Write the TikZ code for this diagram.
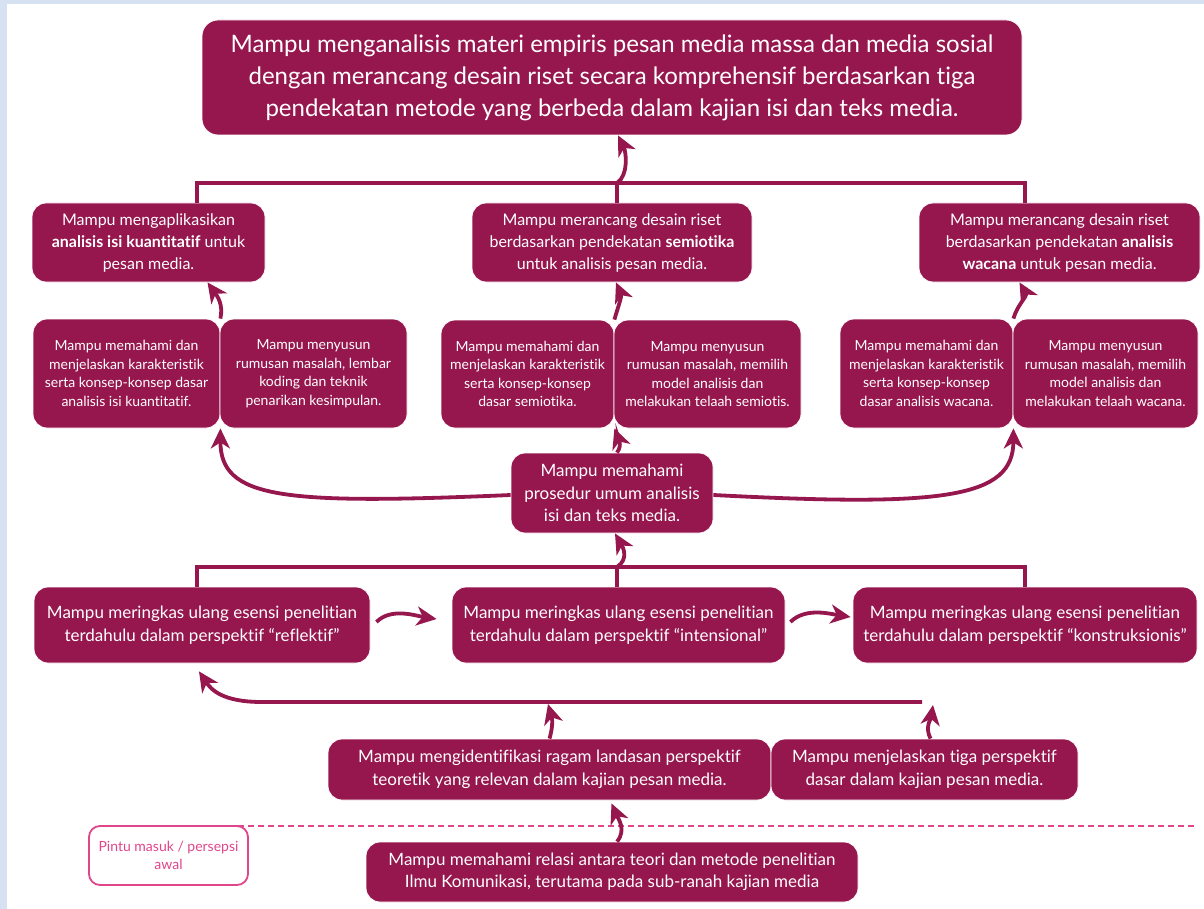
\documentclass[tikz,border=0pt]{standalone}
\usepackage{fontspec}
\setmainfont{Lato}[Ligatures={NoCommon,NoContextual}]
\usetikzlibrary{arrows.meta}
\definecolor{maroon}{HTML}{96164E}
\definecolor{pinkline}{HTML}{E0468C}
\definecolor{framebg}{HTML}{D6E2F2}
\tikzset{
  box/.style={rounded corners=14pt, fill=maroon, draw=white, line width=0.8pt,
    text=white, align=center, inner sep=0pt},
  bigtxt/.style={font=\fontsize{24}{32}\selectfont},
  midtxt/.style={font=\fontsize{17}{22.5}\selectfont},
  subtxt/.style={font=\fontsize{16}{22}\selectfont},
  tinytxt/.style={font=\fontsize{14}{18.5}\selectfont},
  link/.style={draw=maroon, line width=3.5pt},
  arr/.style={draw=maroon, line width=3.8pt, -{Stealth[length=20pt,width=19pt,inset=6pt]}}
}

\begin{document}
\begin{tikzpicture}[x=1pt,y=-1pt]
            \useasboundingbox (0,0) rectangle (1204,909);
            \fill[framebg] (0,0) rectangle (1204,909);
            \fill[white] (7,4) rectangle (1204,909);

            % goal on top
            \node (top) at (612,77.5) [box, bigtxt, minimum width=820, minimum height=115, rounded corners=16pt]{Mampu menganalisis materi empiris pesan media massa dan media sosial\\ dengan merancang desain riset secara komprehensif berdasarkan tiga\\ pendekatan metode yang berbeda dalam kajian isi dan teks media.};

            % three approaches
            \node (L2a) at (148.5,242.5) [box, subtxt, minimum width=233, minimum height=79]{Mampu mengaplikasikan\\ \textbf{analisis isi kuantitatif} untuk\\ pesan media.};
            \node (L2b) at (612,242.5) [box, subtxt, minimum width=280, minimum height=79]{Mampu merancang desain riset\\ berdasarkan pendekatan \textbf{semiotika}\\ untuk analisis pesan media.};
            \node (L2c) at (1059.5,242.5) [box, subtxt, minimum width=281, minimum height=79]{Mampu merancang desain riset\\ berdasarkan pendekatan \textbf{analisis}\\ \textbf{wacana} untuk pesan media.};

            % sub competences
            \node (L3a) at (126.5,373.5) [box, tinytxt, minimum width=187, minimum height=109]{Mampu memahami dan\\ menjelaskan karakteristik\\ serta konsep-konsep dasar\\ analisis isi kuantitatif.};
            \node (L3b) at (313.5,373.5) [box, tinytxt, minimum width=187, minimum height=109]{Mampu menyusun\\ rumusan masalah, lembar\\ koding dan teknik\\ penarikan kesimpulan.};
            \node (L3c) at (527.5,374) [box, tinytxt, minimum width=173, minimum height=108]{Mampu memahami dan\\ menjelaskan karakteristik\\ serta konsep-konsep\\ dasar semiotika.};
            \node (L3d) at (707.5,374) [box, tinytxt, minimum width=187, minimum height=108]{Mampu menyusun\\ rumusan masalah, memilih\\ model analisis dan\\ melakukan telaah semiotis.};
            \node (L3e) at (926.5,373.5) [box, tinytxt, minimum width=173, minimum height=109]{Mampu memahami dan\\ menjelaskan karakteristik\\ serta konsep-konsep\\ dasar analisis wacana.};
            \node (L3f) at (1105.5,373.5) [box, tinytxt, minimum width=185, minimum height=109]{Mampu menyusun\\ rumusan masalah, memilih\\ model analisis dan\\ melakukan telaah wacana.};

            % procedure
            \node (M) at (612,493) [box, midtxt, minimum width=202, minimum height=80]{Mampu memahami\\ prosedur umum analisis\\ isi dan teks media.};

            % perspectives
            \node (R5a) at (202,625) [box, midtxt, minimum width=336, minimum height=76]{Mampu meringkas ulang esensi penelitian\\ terdahulu dalam perspektif “reflektif”};
            \node (R5b) at (618.5,625) [box, midtxt, minimum width=333, minimum height=76]{Mampu meringkas ulang esensi penelitian\\ terdahulu dalam perspektif “intensional”};
            \node (R5c) at (1025,625) [box, midtxt, minimum width=344, minimum height=76]{Mampu meringkas ulang esensi penelitian\\ terdahulu dalam perspektif “konstruksionis”};

            \node (R6a) at (549.5,769.5) [box, midtxt, minimum width=443, minimum height=61]{Mampu mengidentifikasi ragam landasan perspektif\\ teoretik yang relevan dalam kajian pesan media.};
            \node (R6b) at (924.5,769.5) [box, midtxt, minimum width=307, minimum height=61]{Mampu menjelaskan tiga perspektif\\ dasar dalam kajian pesan media.};

            % entry
            \draw[pinkline, line width=2.5pt, dash pattern=on 6pt off 4pt] (218,826) coordinate (d1) -- (1195,826) coordinate (d2);
            \node (P) at (168.5,855.5) [box, fill=white, draw=pinkline, line width=1.8pt, text=pinkline, tinytxt, minimum width=159, minimum height=59, rounded corners=11pt]{Pintu masuk / persepsi\\ awal};
            \node (R7) at (612,872) [box, midtxt, minimum width=492, minimum height=60]{Mampu memahami relasi antara teori dan metode penelitian\\ Ilmu Komunikasi, terutama pada sub-ranah kajian media};

            % junctions
            \coordinate (j2) at (617,183);
            \coordinate (j5) at (617,567);
            \coordinate (j6r) at (922,702);
            \coordinate (j6l) at (262,702);
            \coordinate (j6a) at (548,704);
            \coordinate (j6b) at (933,705);

            % upper bracket
            \draw[link] ([xshift=48.5]L2a.north) |- (j2) -| ([xshift=-34.5]L2c.north);
            \draw[link] (j2) -- (L2b.north -| j2);
            \draw[arr] (j2) .. controls +(12,-8) and +(8,16) .. ([xshift=6]top.south);

            % sub boxes up
            \draw[arr] (L3a.north east) .. controls +(3,-14) and +(10,14) .. ([xshift=59]L2a.south);
            \draw[arr] (L3c.north east) .. controls +(4,-14) and +(6,14) .. ([xshift=4]L2b.south);
            \draw[arr] (L3e.north east) .. controls +(4,-14) and +(8,14) .. ([xshift=-40]L2c.south);

            % procedure out
            \draw[arr] ([yshift=-2]M.west) .. controls +(-230,10) and +(0,70) .. (L3a.south east);
            \draw[arr] ([yshift=-2]M.east) .. controls +(230,12) and +(0,70) .. (L3e.south east);
            \draw[arr] ([xshift=5]M.north) .. controls +(6,-8) and +(3,8) .. (L3c.south east);

            % lower bracket
            \draw[link] ([xshift=-5]R5a.north) |- (j5) -| (R5c.north);
            \draw[link] (j5) -- (R5b.north -| j5);
            \draw[arr] (j5) .. controls +(12,-8) and +(8,14) .. ([xshift=3]M.south);

            % between perspectives
            \draw[arr] ([xshift=6,yshift=3]R5a.east) .. controls +(15,-15) and +(-20,-3) .. ([xshift=-15,yshift=6]R5b.west);
            \draw[arr] ([xshift=5,yshift=3]R5b.east) .. controls +(15,-15) and +(-20,-3) .. ([xshift=-2,yshift=8]R5c.west);

            % base to perspectives
            \draw[arr] (j6r) -- (j6l) .. controls +(-40,0) and +(12,18) .. ([xshift=-3,yshift=-8]R5a.south);
            \draw[arr] (R6a.north) .. controls +(4,-14) and +(4,14) .. (j6a);
            \draw[arr] ([xshift=6]R6b.north) .. controls +(-6,-12) and +(-2,14) .. (j6b);
            \draw[arr] ([xshift=5]R7.north) .. controls +(10,-12) and +(6,14) .. ([xshift=62,yshift=-3]R6a.south);
\end{tikzpicture}
\end{document}
